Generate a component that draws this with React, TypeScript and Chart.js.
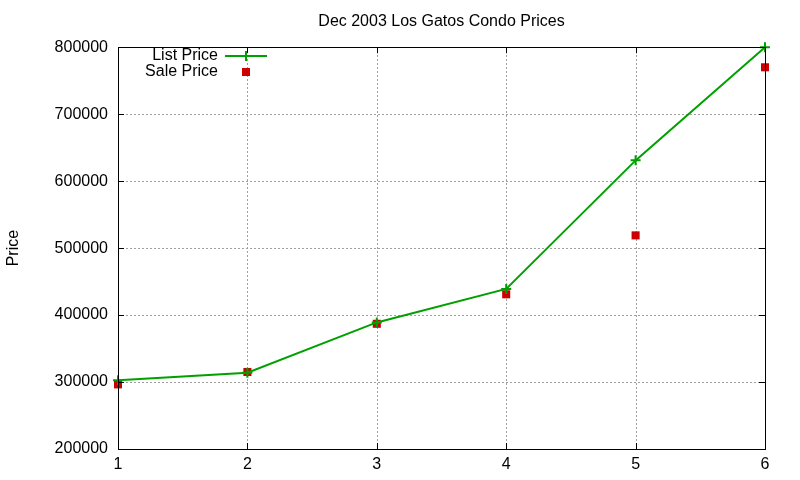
import { useEffect, useRef } from 'react';
import Chart, { ChartConfiguration, Plugin } from 'chart.js/auto';

// unit numbers on the x axis
const units = [1, 2, 3, 4, 5, 6];
const listPrices = [302500, 314000, 389000, 439000, 631000, 800000];
const salePrices = [296500, 315000, 387000, 431000, 519000, 770000];

const yMin = 200000;
const yMax = 800000;
const yStep = 100000;

const GREEN = 'rgb(0,160,0)';
const RED = 'rgb(204,0,0)';
const FONT = '"Liberation Sans", Arial, sans-serif';

// gnuplot style: dotted grid, full border, inward ticks on all four sides, key in the top left
const frame: Plugin = {
  id: 'frame',
  beforeDatasetsDraw(chart) {
    const { ctx, chartArea: a } = chart;
    const x = chart.scales.x;
    const y = chart.scales.y;
    ctx.save();
    ctx.strokeStyle = '#a0a0a0';
    ctx.lineWidth = 1;
    ctx.setLineDash([2, 2]);
    ctx.beginPath();
    x.ticks.forEach(t => {
      const px = Math.round(x.getPixelForValue(t.value)) + 0.5;
      if (px < a.left + 2 || px > a.right - 2) return;
      ctx.moveTo(px, a.bottom); ctx.lineTo(px, a.top);
    });
    y.ticks.forEach(t => {
      const py = Math.round(y.getPixelForValue(t.value)) + 0.5;
      if (py < a.top + 2 || py > a.bottom - 2) return;
      ctx.moveTo(a.left, py); ctx.lineTo(a.right, py);
    });
    ctx.stroke();
    ctx.restore();
  },
  afterDatasetsDraw(chart) {
    const { ctx, chartArea: a } = chart;
    const x = chart.scales.x;
    const y = chart.scales.y;
    ctx.save();
    ctx.strokeStyle = '#000';
    ctx.lineWidth = 1;
    ctx.beginPath();
    x.ticks.forEach(t => {
      const px = Math.round(x.getPixelForValue(t.value)) + 0.5;
      ctx.moveTo(px, a.bottom); ctx.lineTo(px, a.bottom - 6);
      ctx.moveTo(px, a.top); ctx.lineTo(px, a.top + 6);
    });
    y.ticks.forEach(t => {
      const py = Math.round(y.getPixelForValue(t.value)) + 0.5;
      ctx.moveTo(a.left, py); ctx.lineTo(a.left + 6, py);
      ctx.moveTo(a.right, py); ctx.lineTo(a.right - 6, py);
    });
    ctx.stroke();
    ctx.strokeRect(Math.round(a.left) + 0.5, Math.round(a.top) + 0.5,
      Math.round(a.right - a.left), Math.round(a.bottom - a.top));

    // key
    ctx.font = `16px ${FONT}`;
    ctx.fillStyle = '#000';
    ctx.textAlign = 'right';
    ctx.textBaseline = 'middle';
    const textRight = 218;
    const sx = 246;
    chart.data.datasets.forEach((ds, i) => {
      const ky = 56 + i * 16;
      ctx.fillText(String(ds.label), textRight, ky);
      if (i === 0) {
        ctx.strokeStyle = GREEN;
        ctx.lineWidth = 2;
        ctx.beginPath();
        ctx.moveTo(225, ky); ctx.lineTo(267, ky);
        ctx.moveTo(sx, ky - 5); ctx.lineTo(sx, ky + 5);
        ctx.stroke();
      } else {
        ctx.fillStyle = RED;
        ctx.fillRect(sx - 4, ky - 4, 8, 8);
        ctx.fillStyle = '#000';
      }
    });
    ctx.restore();
  },
};

export default function App() {
  const chartRef = useRef<HTMLCanvasElement | null>(null);

  useEffect(() => {
    document.body.style.margin = '0';
    const ctx = chartRef.current?.getContext('2d');
    if (!ctx) return;

    const config: ChartConfiguration<'line'> = {
      type: 'line',
      data: {
        datasets: [
          {
            label: 'List Price',
            data: units.map((u, i) => ({ x: u, y: listPrices[i] })),
            borderColor: GREEN,
            backgroundColor: GREEN,
            borderWidth: 2,
            pointStyle: 'cross',
            pointRadius: 5,
            pointBorderWidth: 2,
            tension: 0,
            clip: false,
          },
          {
            label: 'Sale Price',
            data: units.map((u, i) => ({ x: u, y: salePrices[i] })),
            showLine: false,
            borderColor: RED,
            backgroundColor: RED,
            pointStyle: 'rect',
            pointRadius: 5.7,
            pointBorderWidth: 0,
            clip: false,
          },
        ],
      },
      options: {
        responsive: false,
        animation: false,
        layout: { padding: { left: 0, right: 35, top: 0, bottom: 0 } },
        plugins: {
          legend: { display: false },
          tooltip: { enabled: false },
          title: {
            display: true,
            text: 'Dec 2003 Los Gatos Condo Prices',
            color: '#000',
            fullSize: false,
            font: { family: FONT, size: 16, weight: 'normal' },
            padding: { top: 12, bottom: 16 },
          },
        },
        scales: {
          x: {
            type: 'linear',
            min: units[0],
            max: units[units.length - 1],
            grid: { display: false, drawTicks: false },
            border: { display: false },
            ticks: { stepSize: 1, color: '#000', padding: 6, font: { family: FONT, size: 16 } },
            afterFit: s => { s.height = 31; },
          },
          y: {
            min: yMin,
            max: yMax,
            grid: { display: false, drawTicks: false },
            border: { display: false },
            title: {
              display: true,
              text: 'Price',
              color: '#000',
              font: { family: FONT, size: 16 },
              padding: { top: 4, bottom: 0 },
            },
            ticks: {
              stepSize: yStep,
              color: '#000',
              padding: 10,
              font: { family: FONT, size: 16 },
              callback: v => String(v),
            },
            afterFit: s => { s.width = 118; },
          },
        },
      },
      plugins: [frame],
    };

    const chart = new Chart(ctx, config);
    return () => chart.destroy();
  }, []);

  return (
    <div style={{ width: 800, height: 480 }}>
      <canvas ref={chartRef} width={800} height={480} />
    </div>
  );
}
